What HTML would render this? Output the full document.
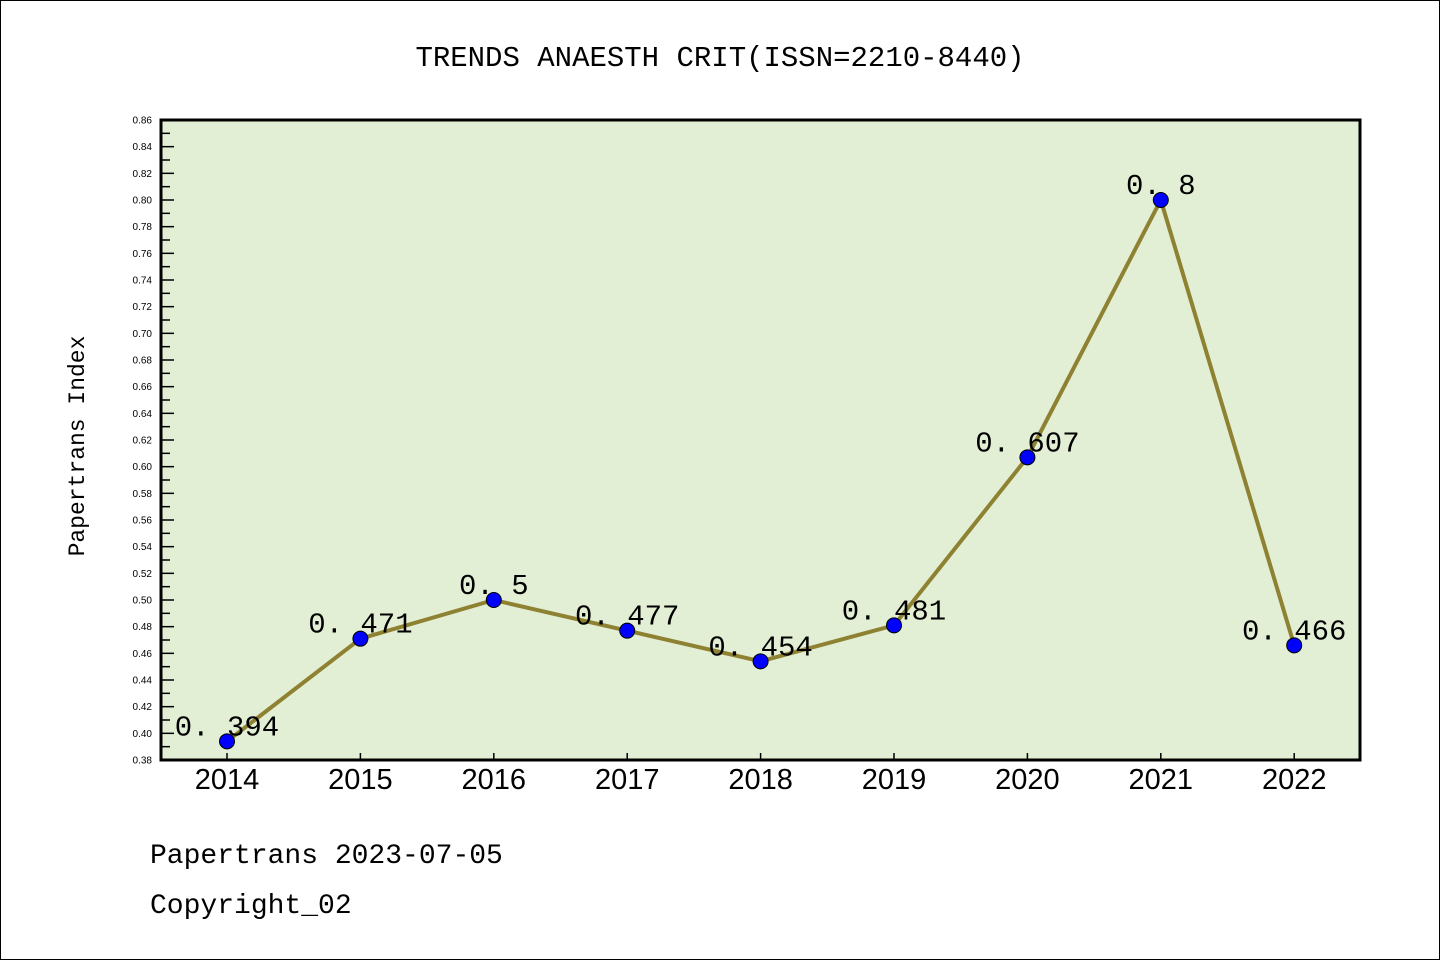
<!DOCTYPE html>
<html><head><meta charset="utf-8"><style>
html,body{margin:0;padding:0;background:#fff}
svg{display:block}
</style></head><body>
<svg id="chart" width="1440" height="960" xmlns="http://www.w3.org/2000/svg">
<rect x="0.5" y="0.5" width="1439" height="959" fill="#fff" stroke="#000"/>
<text x="720" y="66" text-anchor="middle" font-family="Liberation Mono, monospace" font-size="29">TRENDS ANAESTH CRIT(ISSN=2210-8440)</text>
<rect x="161" y="120" width="1199" height="640" fill="#e2efd4"/>
<g id="yaxis"></g>
<g id="xaxis"></g>
<g id="series"></g>
<rect x="161" y="120" width="1199" height="640" fill="none" stroke="#000" stroke-width="3"/>
<text transform="translate(84,446) rotate(-90)" text-anchor="middle" font-family="Liberation Mono, monospace" font-size="23">Papertrans Index</text>
<text x="150" y="863" font-family="Liberation Mono, monospace" font-size="28">Papertrans 2023-07-05</text>
<text x="150" y="913" font-family="Liberation Mono, monospace" font-size="28">Copyright_02</text>
</svg>
<script>
const years=["2014","2015","2016","2017","2018","2019","2020","2021","2022"];
const values=[0.394,0.471,0.5,0.477,0.454,0.481,0.607,0.8,0.466];
const valueLabels=["0. 394","0. 471","0. 5","0. 477","0. 454","0. 481","0. 607","0. 8","0. 466"];
const yMin=0.38,yMax=0.86;
const NS="http://www.w3.org/2000/svg";
function yScale(v){return 760-(v-yMin)/(yMax-yMin)*640;}
function xScale(i){return 227+i*133.4;}
function mk(t,a,p){const e=document.createElementNS(NS,t);for(const k in a)e.setAttribute(k,a[k]);p.appendChild(e);return e;}
const ya=document.getElementById('yaxis');
for(let k=0;k<=48;k++){
  const v=yMin+k*0.01,y=yScale(v),major=k%2===0;
  const l=mk('line',{x1:161,x2:161+(major?13:9),y1:y,y2:y,stroke:'#000','stroke-width':1.5},ya);
  
  
  if(major){
    const t=mk('text',{x:152,y:y+3.5,'text-anchor':'end','font-family':'Liberation Sans, sans-serif','font-size':10},ya);
    t.textContent=v.toFixed(2);
    
    
  }
}
const xa=document.getElementById('xaxis');
years.forEach((yr,i)=>{
  const x=xScale(i);
  const l=mk('line',{x1:x,x2:x,y1:760,y2:753,stroke:'#000','stroke-width':1.5},xa);
  
  
  const t=mk('text',{x:x,y:789,'text-anchor':'middle','font-family':'Liberation Sans, sans-serif','font-size':29},xa);
  t.textContent=yr;
  
  
});
const s=document.getElementById('series');
const pts=values.map((v,i)=>xScale(i)+','+yScale(v)).join(' ');
const pl=mk('polyline',{points:pts,fill:'none',stroke:'#8e8132','stroke-width':4,'stroke-linejoin':'round'},s);


values.forEach((v,i)=>{
  const c=mk('circle',{cx:xScale(i),cy:yScale(v),r:7.5,fill:'#0000ff',stroke:'#000','stroke-width':1},s);
  
  
  const t=mk('text',{x:xScale(i),y:yScale(v)-6,'text-anchor':'middle','font-family':'Liberation Mono, monospace','font-size':29},s);
  t.textContent=valueLabels[i];
  
  
});
</script>
</body></html>
